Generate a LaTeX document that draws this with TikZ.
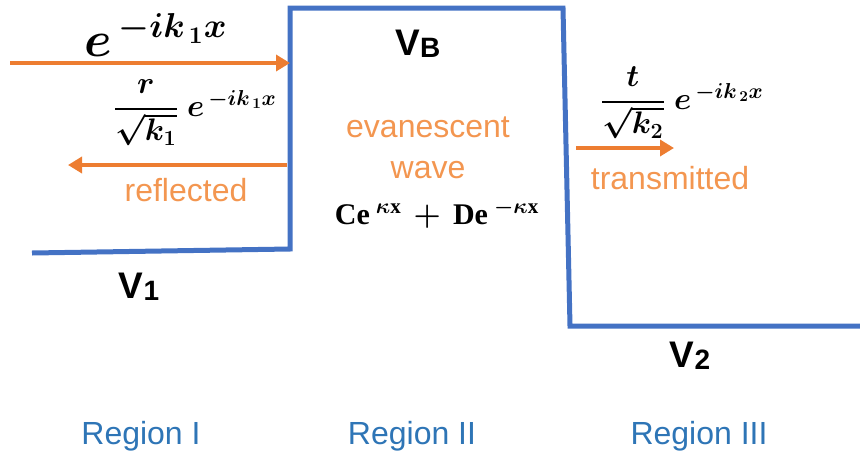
\documentclass[tikz,border=0pt]{standalone}
\usepackage{fontspec}
\setmainfont{Liberation Serif}
\setsansfont{Liberation Sans}
\usepackage{amsmath,amssymb,bm}
\usetikzlibrary{positioning, arrows.meta}

\definecolor{wellblue}{RGB}{68,114,196}
\definecolor{waveorange}{RGB}{237,125,49}
\definecolor{lblorange}{RGB}{243,150,80}
\definecolor{regblue}{RGB}{46,117,182}

\begin{document}
\begin{tikzpicture}[x=1pt, y=-1pt,
  pot/.style={draw=wellblue, line width=5pt, line join=miter},
  wave/.style={-{Triangle[length=14pt, width=16pt]}, draw=waveorange, line width=4.5pt},
  lbl/.style={font=\sffamily\fontsize{32}{35}\selectfont, text=lblorange, inner sep=0pt},
  reg/.style={font=\sffamily\fontsize{32}{35}\selectfont, text=regblue, inner sep=0pt},
  lvl/.style={font=\sffamily\bfseries\fontsize{37}{40}\selectfont, inner sep=0pt},
  eq/.style={font=\fontsize{20}{24}\selectfont, inner sep=0pt, scale=1.5},
]
\useasboundingbox (0,0) rectangle (860,456);

% --- Potential profile ---
\coordinate (p1) at (32,253);
\coordinate (p2) at (290,249);
\coordinate (p3) at (290,8);
\coordinate (p4) at (563,8);
\coordinate (p5) at (570,326);
\coordinate (p6) at (862,326);
\draw[pot] (p1) -- (p2) -- (p3) -- (p4) -- (p5) -- (p6);

% --- Waves ---
\coordinate (incA) at (10,63);
\coordinate (incB) at (290,63);
\coordinate (refA) at (287,165);
\coordinate (refB) at (68,165);
\coordinate (traA) at (576,148);
\coordinate (traB) at (674,148);
\draw[wave] (incA) -- (incB);
\draw[wave] (refA) -- (refB);
\draw[wave] (traA) -- (traB);

% --- Formulas ---
\node[eq, scale=1.6] (finc) at (156,35) {$\bm{e^{\,-ik_{\,1}x}}$};
\node[eq] (fref) at (195,113) {$\bm{\dfrac{r}{\sqrt{k_1}}\;e^{\,-ik_{\,1}x}}$};
\node[eq] (ftra) at (682,103) {$\bm{\dfrac{t}{\sqrt{k_2}}\;e^{\,-ik_{\,2}x}}$};
\node[eq] (fmid) at (437,214)
  {$\mathbf{Ce}^{\;\bm{\kappa}\mathbf{x}}\bm{\,+\,}\mathbf{De}^{\;\bm{-\kappa}\mathbf{x}}$};

% --- Labels ---
\node[lbl] (evan) at (428,127) {evanescent};
\node[lbl] (wv) at (428,170) {wave};
\node[lbl] (refl) at (186,190) {reflected};
\node[lbl] (tran) at (670,178) {transmitted};

\node[lvl] (vb) at (418,44) {V{\fontsize{28}{30}\selectfont\raisebox{-2pt}{B}}};
\node[lvl] (v1) at (139,287) {V{\fontsize{28}{30}\selectfont\raisebox{-2pt}{1}}};
\node[lvl] (v2) at (690,356) {V{\fontsize{28}{30}\selectfont\raisebox{-2pt}{2}}};

% --- Regions ---
\node[reg] (r1) at (141,436) {Region I};
\node[reg] (r2) at (412,436) {Region II};
\node[reg] (r3) at (699,436) {Region III};

\end{tikzpicture}
\end{document}
